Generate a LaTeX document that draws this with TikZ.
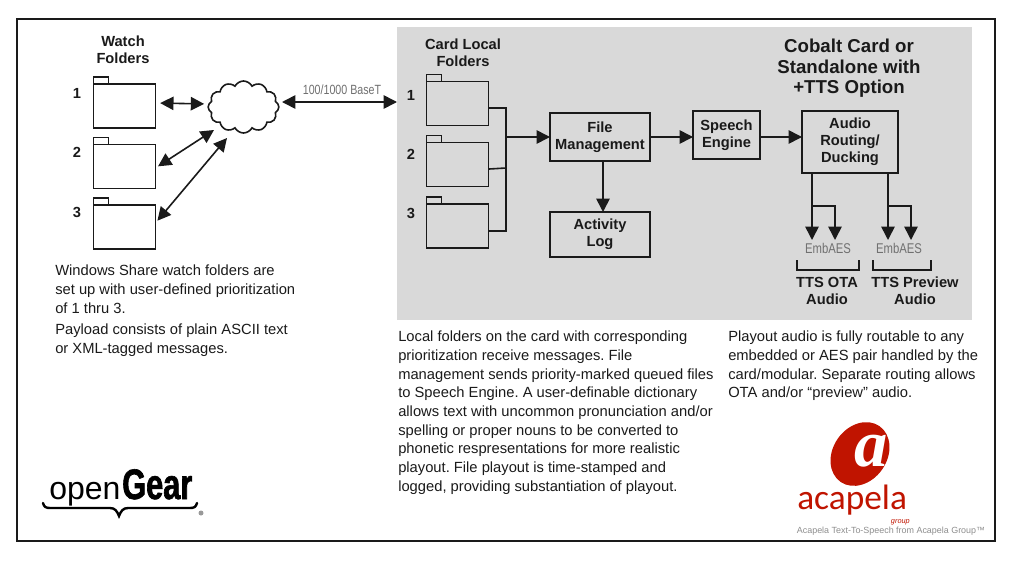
\documentclass[tikz,border=0pt]{standalone}
\usepackage{fontspec}
\setmainfont{Liberation Sans}
\newfontfamily\thinfont[FakeStretch=0.8]{Liberation Sans}
\newfontfamily\gearfont[FakeStretch=0.72,FakeBold=1.5]{Liberation Sans}
\newfontfamily\logofont{Carlito}
\newfontfamily\atfont{Liberation Serif}
\usetikzlibrary{arrows.meta,positioning,shapes.symbols}

\definecolor{ink}{HTML}{1A1A1A}
\definecolor{panelgray}{HTML}{D9D9D9}
\definecolor{softgray}{HTML}{707070}
\definecolor{acared}{HTML}{C01400}

\newcommand{\folder}[2]{
	\node[folder] (#1) at (#2) {};
	\draw[line] (#1.north west) -- ++(0,-7) -- ++(15,0) -- ++(0,7);
}

\begin{document}
\frenchspacing
\begin{tikzpicture}[x=0.75pt,y=-0.75pt,
	line/.style={draw=ink,line width=1.2pt},
	feed/.style={line,-{Triangle[length=10pt,width=10pt]}},
	both/.style={line,{Triangle[length=10pt,width=10pt]}-{Triangle[length=10pt,width=10pt]}},
	folder/.style={line,minimum width=46.5pt,minimum height=33pt,inner sep=0pt,outer sep=0pt},
	head/.style={text=ink,align=center,font=\bfseries\fontsize{11}{12.6}\selectfont},
	num/.style={text=ink,font=\bfseries\fontsize{11}{12.6}\selectfont},
	block/.style={head,line,inner sep=0pt,outer sep=0pt},
	body/.style={text=ink,align=left,anchor=north west,inner sep=0pt,font=\fontsize{11.05}{14}\selectfont},
	thin/.style={text=softgray,inner sep=0pt,font=\thinfont\fontsize{10}{12}\selectfont}]

	\useasboundingbox (0,0) rectangle (1024,561);
	\node[line,minimum width=733.5pt,minimum height=391.5pt,outer sep=0pt] (frame) at (506,280) {};
	\node[fill=panelgray,minimum width=431.25pt,minimum height=219.75pt,outer sep=0pt] (panel) at (684.5,173.5) {};

	% watch folders and network
	\node[head] (watch) at (123,49.5) {Watch\\Folders};
	\folder{w1}{124.5,106}
	\folder{w2}{124.5,166.5}
	\folder{w3}{124.5,227}
	\node[num] (n1) at (77,93) {1};
	\node[num] (n2) at (77,152) {2};
	\node[num] (n3) at (77,212) {3};
	\node[cloud,line,cloud puffs=12,cloud puff arc=125,aspect=1.4,minimum width=53pt,minimum height=39pt,inner sep=0pt,outer sep=0pt] (net) at (243.5,107) {};
	\coordinate (c2) at (214,130);
	\coordinate (c3) at (227,138);
	\coordinate (netr) at (282,102);
	\node[thin] (base) at (342,90) {100/1000 BaseT};

	\draw[both,shorten <=3.5pt,shorten >=3pt] ([yshift=2.25pt]w1.east) -- ([yshift=2.25pt]net.west);
	\draw[both,shorten <=2.25pt] ([yshift=-1.1pt]w2.east) -- (c2);
	\draw[both,shorten <=2.25pt] ([yshift=3pt]w3.east) -- (c3);
	\draw[both] (netr) -- (netr -| panel.west);

	% card folders
	\node[head] (card) at (463,52.5) {Card Local\\Folders};
	\folder{l1}{457.5,103.5}
	\folder{l2}{457.5,164.5}
	\folder{l3}{457.5,226}
	\node[num] (m1) at (411,95) {1};
	\node[num] (m2) at (411,154) {2};
	\node[num] (m3) at (411,213) {3};

	% processing chain
	\node[block,minimum width=75pt,minimum height=36pt] (fm) at (600,137) {File\\Management};
	\node[block,minimum width=75pt,minimum height=33.75pt,below=38.25pt of fm] (al) {Activity\\Log};
	\node[block,minimum width=50.25pt,minimum height=36pt] (se) at (726.5,135) {Speech\\Engine};
	\node[block,minimum width=72pt,minimum height=46.5pt] (ar) at (850,142) {Audio\\Routing/\\Ducking};

	\coordinate (bustop) at (506,108);
	\coordinate (busmid) at (506,168);
	\coordinate (busbot) at (506,231);
	\draw[line] ([yshift=-3.4pt]l1.east) -- (bustop) -- (busbot) -- ([yshift=-3.75pt]l3.east);
	\draw[line] ([yshift=-3.4pt]l2.east) -- (busmid);
	\draw[feed] (bustop |- fm.west) -- (fm.west);
	\draw[feed] (fm.east) -- (fm.east -| se.west);
	\draw[feed] (se.east |- fm.east) -- (fm.east -| ar.west);
	\draw[feed] ([xshift=2.25pt]fm.south) -- ([xshift=2.25pt]al.north);

	% outputs
	\node[thin,font=\thinfont\fontsize{10.6}{12}\selectfont] (e1) at (828,248) {EmbAES};
	\node[thin,font=\thinfont\fontsize{10.6}{12}\selectfont] (e2) at (899,248) {EmbAES};
	\coordinate (o1) at (812,240);
	\coordinate (o2) at (835,240);
	\coordinate (o3) at (888,240);
	\coordinate (o4) at (911,240);
	\draw[feed] (o1 |- ar.south) -- (o1);
	\draw[feed] (812,206) -| (o2);
	\draw[feed] (o3 |- ar.south) -- (o3);
	\draw[feed] (888,206) -| (o4);
	\draw[line] (797,260) |- (859,270) -- (859,260);
	\draw[line] (873,260) |- (931,270) -- (931,260);
	\node[head] (ota) at (827,291) {TTS OTA\\Audio};
	\node[head] (prev) at (915,291) {TTS Preview\\Audio};
	\node[head,font=\bfseries\fontsize{14}{15.4}\selectfont] (title) at (849,68.5) {Cobalt Card or\\Standalone with\\+TTS Option};

	% notes
	\node[body] (t1) at (55,265) {Windows Share watch folders are\\set up with user-defined prioritization\\of 1 thru 3.};
	\node[body] (t2) at (55,324) {Payload consists of plain ASCII text\\or XML-tagged messages.};
	\node[body] (t3) at (398,331) {Local folders on the card with corresponding\\prioritization receive messages. File\\management sends priority-marked queued files\\to Speech Engine. A user-definable dictionary\\allows text with uncommon pronunciation and/or\\spelling or proper nouns to be converted to\\phonetic respresentations for more realistic\\playout. File playout is time-stamped and\\logged, providing substantiation of playout.};
	\node[body] (t4) at (728,331) {Playout audio is fully routable to any\\embedded or AES pair handled by the\\card/modular. Separate routing allows\\OTA and/or “preview” audio.};

	% openGear logo
	\node[anchor=base west,inner sep=0pt,text=black,font=\fontsize{24}{24}\selectfont] (open) at (49,499) {open};
	\node[anchor=base west,inner sep=0pt,text=black,font=\gearfont\bfseries\fontsize{32}{32}\selectfont] (gear) at (122,499) {Gear};
	\draw[black,line width=1.8pt,line cap=round] (43,503) .. controls (44,507) and (46,508) .. (50,508) -- (110,508) .. controls (115,508) and (117,511) .. (119,516) .. controls (121,511) and (123,508) .. (128,508) -- (190,508) .. controls (194,508) and (196,507) .. (197,503);
	\fill[black!40] (201,513) circle (2.5);

	% acapela logo
	\fill[acared,rotate around={-35:(860,454)}] (860,454) ellipse (27 and 34);
	\node[text=white,inner sep=0pt,font=\atfont\bfseries\itshape\fontsize{50}{50}\selectfont] (ata) at (871,451) {a};
	\node[anchor=base west,inner sep=0pt,text=acared,font=\logofont\fontsize{26.5}{26.5}\selectfont] (aca) at (797,509) {acapela};
	\node[anchor=base east,inner sep=0pt,text=acared,font=\itshape\fontsize{5.5}{6}\selectfont] (grp) at (910,523) {group};
	\node[inner sep=0pt,text=softgray!80,font=\fontsize{6.7}{8}\selectfont] (tag) at (891,531.5) {Acapela Text-To-Speech from Acapela Group™};
\end{tikzpicture}
\end{document}
